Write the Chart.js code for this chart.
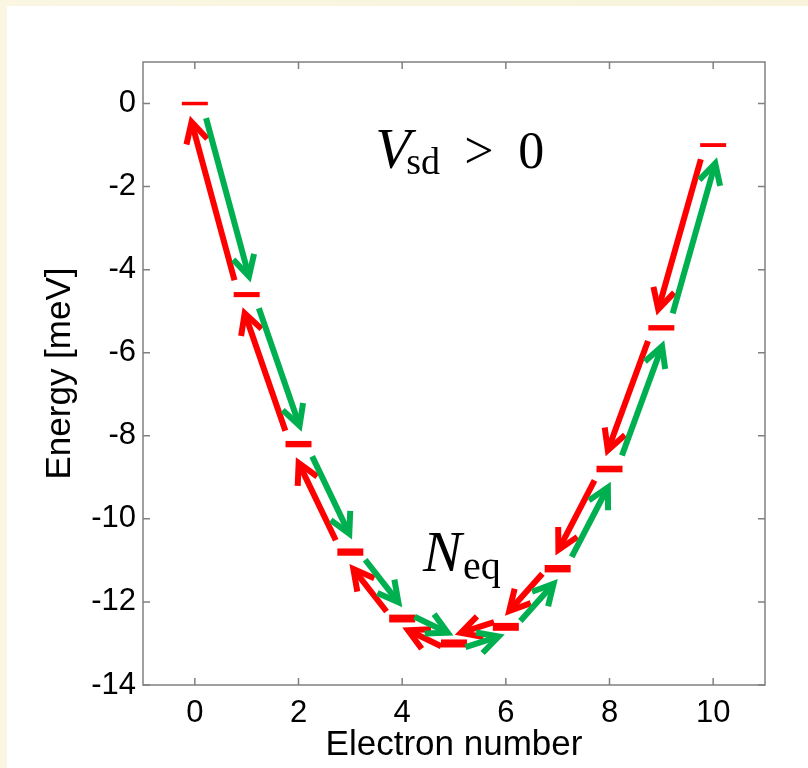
<!DOCTYPE html>
<html>
<head>
<meta charset="utf-8">
<title>Charging energy levels</title>
<script src="https://cdn.jsdelivr.net/npm/chart.js@4.4.1/dist/chart.umd.min.js"></script>
<style>
  html, body { margin: 0; padding: 0; background: #fff; }
  #wrap { width: 808px; height: 768px; }
</style>
</head>
<body>
<div id="wrap"><canvas id="levels" width="808" height="768"></canvas></div>
<script>
// electron number and the energy of each charge state (meV)
const electrons = [0, 1, 2, 3, 4, 5, 6, 7, 8, 9, 10];
const energies = [0, -4.6, -8.2, -10.8, -12.4, -13, -12.6, -11.2, -8.8, -5.4, -1];

const xTicks = [0, 2, 4, 6, 8, 10];
const yTicks = [-14, -12, -10, -8, -6, -4, -2, 0];

const RED = '#ff0000';
const GREEN = '#00b050';
const AXIS = '#808080';
const FONT = '"Liberation Sans", Arial, sans-serif';
const SERIF = '"Liberation Serif", "Times New Roman", serif';

// cream frame behind the white figure panel
const backdrop = {
    id: 'backdrop',
    beforeDraw(chart) {
        const ctx = chart.ctx;
        const g = ctx.createLinearGradient(0, 0, chart.width, 0);
        g.addColorStop(0, '#faf6e2');
        g.addColorStop(1, '#f8f3da');
        ctx.save();
        ctx.fillStyle = g;
        ctx.fillRect(0, 0, chart.width, chart.height);
        ctx.fillStyle = '#ffffff';
        ctx.fillRect(7, 6, chart.width - 7, chart.height - 6);
        ctx.restore();
    }
};

// matlab style box with inward ticks
const axesBox = {
    id: 'axesBox',
    beforeDatasetsDraw(chart) {
        const {ctx, chartArea: a, scales: {x, y}} = chart;
        const len = 7;
        ctx.save();
        ctx.strokeStyle = AXIS;
        ctx.lineWidth = 1.5;
        ctx.strokeRect(a.left, a.top, a.right - a.left, a.bottom - a.top);
        ctx.beginPath();
        xTicks.forEach(v => {
            const px = x.getPixelForValue(v);
            ctx.moveTo(px, a.bottom); ctx.lineTo(px, a.bottom - len);
            ctx.moveTo(px, a.top); ctx.lineTo(px, a.top + len);
        });
        yTicks.forEach(v => {
            const py = y.getPixelForValue(v);
            ctx.moveTo(a.left, py); ctx.lineTo(a.left + len, py);
            ctx.moveTo(a.right, py); ctx.lineTo(a.right - len, py);
        });
        ctx.stroke();
        ctx.restore();
    }
};

function drawArrow(ctx, from, to, color) {
    const dx = to.x - from.x, dy = to.y - from.y;
    const len = Math.hypot(dx, dy);
    const ux = dx / len, uy = dy / len;
    const ang = 28 * Math.PI / 180, arm = 23;
    const c = Math.cos(ang), s = Math.sin(ang);
    const bx = -ux, by = -uy;

    ctx.strokeStyle = color;
    ctx.lineWidth = 6;
    ctx.lineCap = 'butt';
    ctx.lineJoin = 'miter';

    ctx.beginPath();
    ctx.moveTo(from.x, from.y);
    ctx.lineTo(to.x - ux * 3, to.y - uy * 3);
    ctx.stroke();

    ctx.beginPath();
    ctx.moveTo(to.x + arm * (bx * c - by * s), to.y + arm * (bx * s + by * c));
    ctx.lineTo(to.x, to.y);
    ctx.lineTo(to.x + arm * (bx * c + by * s), to.y + arm * (-bx * s + by * c));
    ctx.stroke();
}

// red: N+1 -> N (left of the step), green: N -> N+1 (right of the step)
const hopArrows = {
    id: 'hopArrows',
    afterDatasetsDraw(chart) {
        const pts = chart.getDatasetMeta(0).data;
        const ctx = chart.ctx;
        const reds = [], greens = [];
        for (let i = 0; i < pts.length - 1; i++) {
            const p0 = pts[i], p1 = pts[i + 1];
            const dx = p1.x - p0.x, dy = p1.y - p0.y;
            const len = Math.hypot(dx, dy);
            const ux = dx / len, uy = dy / len;
            let nx = -uy, ny = ux;
            if (nx > 0) { nx = -nx; ny = -ny; }
            const gap = Math.min(17, len * 0.18);
            const s = {x: p0.x + ux * gap, y: p0.y + uy * gap};
            const e = {x: p1.x - ux * gap, y: p1.y - uy * gap};
            const ro = 8, go = 7;
            reds.push([{x: e.x + nx * ro, y: e.y + ny * ro}, {x: s.x + nx * ro, y: s.y + ny * ro}]);
            greens.push([{x: s.x - nx * go, y: s.y - ny * go}, {x: e.x - nx * go, y: e.y - ny * go}]);
        }
        ctx.save();
        reds.forEach(r => drawArrow(ctx, r[0], r[1], RED));
        greens.forEach(g => drawArrow(ctx, g[0], g[1], GREEN));
        ctx.restore();
    }
};

// math labels, anchored in data units
const vsdAt = {x: 3.48, y: -1.55};
const neqAt = {x: 4.4, y: -11.26};

const mathLabels = {
    id: 'mathLabels',
    afterDraw(chart) {
        const {ctx, scales: {x, y}} = chart;
        ctx.save();
        ctx.fillStyle = '#000';
        ctx.textAlign = 'left';
        ctx.textBaseline = 'alphabetic';

        let px = x.getPixelForValue(vsdAt.x), py = y.getPixelForValue(vsdAt.y);
        ctx.font = 'italic 58px ' + SERIF;
        ctx.fillText('V', px, py);
        ctx.font = '38px ' + SERIF;
        ctx.fillText('sd', px + 31, py + 6);
        ctx.font = '52px ' + SERIF;
        ctx.fillText('>', px + 89, py);
        ctx.fillText('0', px + 143, py);

        px = x.getPixelForValue(neqAt.x); py = y.getPixelForValue(neqAt.y);
        ctx.font = 'italic 58px ' + SERIF;
        ctx.fillText('N', px, py);
        ctx.font = '40px ' + SERIF;
        ctx.fillText('eq', px + 40, py + 8);
        ctx.restore();
    }
};

new Chart(document.getElementById('levels'), {
    type: 'scatter',
    data: {
        datasets: [{
            label: 'levels',
            data: electrons.map((n, i) => ({x: n, y: energies[i]})),
            showLine: false,
            pointStyle: 'line',
            pointRadius: 13,
            pointHoverRadius: 13,
            pointBorderColor: RED,
            pointBackgroundColor: RED,
            pointBorderWidth: c => 3.5 + Math.abs(c.raw.y) * 0.35
        }]
    },
    options: {
        responsive: false,
        animation: false,
        events: [],
        layout: {padding: {top: 62, right: 43, left: 0, bottom: 0}},
        plugins: {legend: {display: false}, tooltip: {enabled: false}},
        scales: {
            x: {
                type: 'linear',
                min: -1,
                max: 11,
                afterBuildTicks: s => { s.ticks = xTicks.map(v => ({value: v})); },
                afterFit: s => { s.height = 83; },
                grid: {display: false, drawTicks: false},
                border: {display: false},
                ticks: {color: '#000', padding: 10, font: {family: FONT, size: 31}},
                title: {display: true, text: 'Electron number', color: '#000',
                    padding: {top: 0, bottom: 2}, font: {family: FONT, size: 35}}
            },
            y: {
                type: 'linear',
                min: -14,
                max: 1,
                afterBuildTicks: s => { s.ticks = yTicks.map(v => ({value: v})); },
                afterFit: s => { s.width = 143; },
                grid: {display: false, drawTicks: false},
                border: {display: false},
                ticks: {color: '#000', padding: 7, font: {family: FONT, size: 31}},
                title: {display: true, text: 'Energy [meV]', color: '#000',
                    padding: {top: 39, bottom: 0}, font: {family: FONT, size: 35}}
            }
        }
    },
    plugins: [backdrop, axesBox, hopArrows, mathLabels]
});
</script>
</body>
</html>
